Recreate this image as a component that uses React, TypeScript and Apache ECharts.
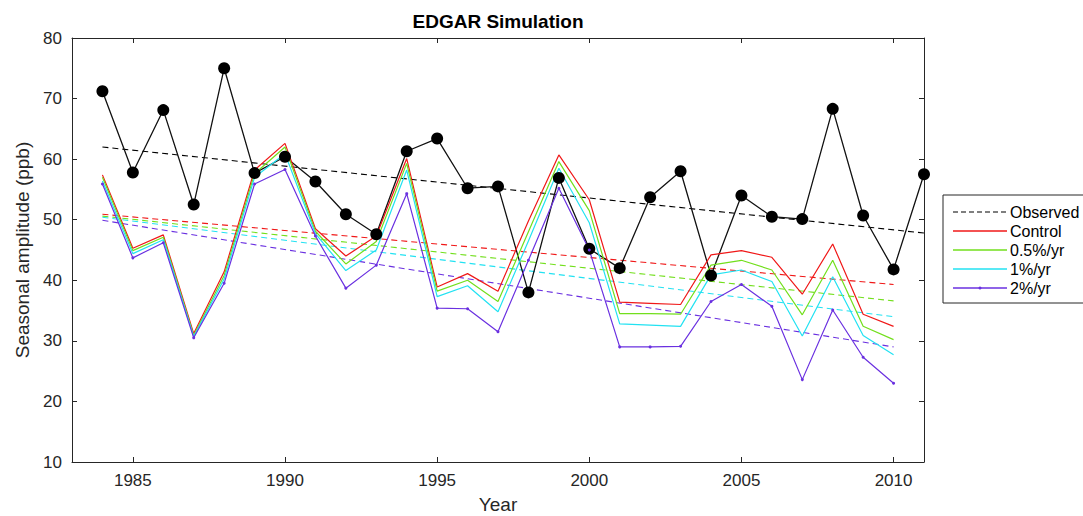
import React, { useEffect, useRef } from "react";
import * as echarts from "echarts";

const obsYears = [1984, 1985, 1986, 1987, 1988, 1989, 1990, 1991, 1992, 1993, 1994, 1995, 1996, 1997, 1998, 1999, 2000, 2001, 2002, 2003, 2004, 2005, 2006, 2007, 2008, 2009, 2010, 2011];
const observed = [71.2, 57.8, 68.1, 52.5, 75.0, 57.7, 60.4, 56.3, 50.9, 47.6, 61.3, 63.4, 55.2, 55.5, 38.0, 56.9, 45.2, 42.0, 53.7, 58.0, 40.8, 54.0, 50.5, 50.1, 68.3, 50.7, 41.8, 57.5];

const modelYears = [1984, 1985, 1986, 1987, 1988, 1989, 1990, 1991, 1992, 1993, 1994, 1995, 1996, 1997, 1998, 1999, 2000, 2001, 2002, 2003, 2004, 2005, 2006, 2007, 2008, 2009, 2010];
const control = [57.4, 45.3, 47.5, 31.2, 41.4, 58.2, 62.6, 48.5, 44.0, 47.3, 60.1, 38.9, 41.1, 38.2, 49.8, 60.7, 53.3, 36.4, 36.2, 36.0, 44.2, 44.9, 43.8, 37.7, 46.0, 34.4, 32.4];
const p05 = [57.0, 44.9, 47.1, 30.9, 40.8, 57.6, 62.0, 48.1, 42.7, 46.4, 59.3, 38.2, 40.0, 36.5, 48.0, 59.6, 51.5, 34.5, 34.5, 34.4, 42.5, 43.3, 41.7, 34.3, 43.3, 32.4, 30.2];
const p1 = [56.4, 44.4, 46.7, 30.7, 40.2, 57.0, 60.9, 47.7, 41.6, 45.0, 58.2, 37.3, 39.1, 34.8, 46.5, 58.5, 49.5, 32.8, 32.6, 32.4, 40.9, 41.7, 39.8, 30.8, 40.6, 30.9, 27.7];
const p2 = [55.9, 43.7, 46.2, 30.5, 39.5, 55.9, 58.3, 47.3, 38.7, 42.5, 54.3, 35.4, 35.3, 31.5, 43.3, 55.2, 45.0, 29.0, 29.0, 29.1, 36.5, 39.3, 35.7, 23.6, 35.1, 27.3, 23.0];

const obsTrendYears = [1984, 2011];
const observedTrend = [62.0, 47.8];
const modelTrendYears = [1984, 2010];
const controlTrend = [50.9, 39.3];
const p05Trend = [50.6, 36.6];
const p1Trend = [50.4, 34.0];
const p2Trend = [49.9, 29.0];

const xTicks = [1985, 1990, 1995, 2000, 2005, 2010];
const legendNames = ["Observed", "Control", "0.5%/yr", "1%/yr", "2%/yr"];

const FONT = "'Liberation Sans', Arial, Helvetica, sans-serif";
const AX = "#262626";
const C_RED = "#f01818";
const C_GREEN = "#72df1c";
const C_CYAN = "#22e2f2";
const C_PURPLE = "#6a30e0";
const C_BLACK = "#000000";

const zip = (xs: number[], ys: number[]) => xs.map((x, i) => [x, ys[i]]);

export default function App() {
  const ref = useRef<HTMLDivElement>(null);
  useEffect(() => {
    document.body.style.margin = "0";
    const chart = echarts.init(ref.current!, null, { renderer: "svg" });
    const dashed = (name: string, xs: number[], ys: number[], color: string) => ({
      name,
      type: "line",
      data: zip(xs, ys),
      symbol: "none",
      lineStyle: { color, width: 1.1, type: [6, 4] },
      z: 2,
    });
    const solid = (name: string, ys: number[], color: string, sym = false) => ({
      name,
      type: "line",
      data: zip(modelYears, ys),
      symbol: sym ? "circle" : "none",
      symbolSize: 3,
      showSymbol: sym,
      itemStyle: { color },
      lineStyle: { color, width: 1.2 },
      z: 3,
    });
    const legendColors = [C_BLACK, C_RED, C_GREEN, C_CYAN, C_PURPLE];
    const legendGraphics: any[] = [
      {
        type: "rect",
        shape: { x: 943, y: 195, width: 220, height: 108 },
        style: { fill: "#ffffff", stroke: AX, lineWidth: 1 },
      },
    ];
    legendNames.forEach((n, i) => {
      const y = 212 + i * 19;
      legendGraphics.push({
        type: "line",
        shape: { x1: 953, y1: y, x2: 1007, y2: y },
        style: { stroke: legendColors[i], lineWidth: i === 0 ? 1.1 : 1.4, lineDash: i === 0 ? [5, 3] : null },
      });
      if (i === 4) {
        legendGraphics.push({ type: "circle", shape: { cx: 980, cy: y, r: 1.5 }, style: { fill: C_PURPLE } });
      }
      legendGraphics.push({
        type: "text",
        x: 1010,
        y,
        style: { text: n, fontSize: 16, fontFamily: FONT, fill: "#000", verticalAlign: "middle", align: "left" },
      });
    });
    const option: any = {
      animation: false,
      backgroundColor: "#ffffff",
      grid: { left: 72, right: 159, top: 38, bottom: 54, containLabel: false, outerBoundsMode: "none" },
      xAxis: [
        {
          type: "value",
          min: 1983,
          max: 2011,
          name: "Year",
          nameLocation: "middle",
          nameGap: 33,
          nameTextStyle: { fontSize: 19, fontFamily: FONT, color: AX },
          axisLine: { show: true, onZero: false, lineStyle: { color: AX, width: 1 } },
          axisTick: { show: true, inside: true, length: 5, customValues: xTicks, lineStyle: { color: AX } },
          axisLabel: {
            show: true,
            customValues: xTicks,
            formatter: (v: number) => String(v),
            fontSize: 17,
            fontFamily: FONT,
            color: AX,
            margin: 10,
          },
          splitLine: { show: false },
        },
        {
          type: "value",
          position: "top",
          min: 1983,
          max: 2011,
          axisLine: { show: true, onZero: false, lineStyle: { color: AX, width: 1 } },
          axisTick: { show: true, inside: true, length: 5, customValues: xTicks, lineStyle: { color: AX } },
          axisLabel: { show: false },
          splitLine: { show: false },
        },
      ],
      yAxis: [
        {
          type: "value",
          min: 10,
          max: 80,
          interval: 10,
          name: "Seasonal amplitude (ppb)",
          nameLocation: "middle",
          nameGap: 37,
          nameRotate: 90,
          nameTextStyle: { fontSize: 19, fontFamily: FONT, color: AX },
          axisLine: { show: true, onZero: false, lineStyle: { color: AX, width: 1 } },
          axisTick: { show: true, inside: true, length: 5, lineStyle: { color: AX } },
          axisLabel: { show: true, fontSize: 17, fontFamily: FONT, color: AX, margin: 10 },
          splitLine: { show: false },
        },
        {
          type: "value",
          position: "right",
          min: 10,
          max: 80,
          interval: 10,
          axisLine: { show: true, onZero: false, lineStyle: { color: AX, width: 1 } },
          axisTick: { show: true, inside: true, length: 5, lineStyle: { color: AX } },
          axisLabel: { show: false },
          splitLine: { show: false },
        },
      ],
      series: [
        dashed("Observed", obsTrendYears, observedTrend, C_BLACK),
        dashed("Control trend", modelTrendYears, controlTrend, C_RED),
        dashed("0.5%/yr trend", modelTrendYears, p05Trend, C_GREEN),
        dashed("1%/yr trend", modelTrendYears, p1Trend, C_CYAN),
        dashed("2%/yr trend", modelTrendYears, p2Trend, C_PURPLE),
        {
          name: "Observed data",
          type: "line",
          data: zip(obsYears, observed),
          symbol: "circle",
          symbolSize: 12,
          itemStyle: { color: C_BLACK },
          lineStyle: { color: "#111111", width: 1.3 },
          z: 3,
        },
        solid("Control", control, C_RED),
        solid("0.5%/yr", p05, C_GREEN),
        solid("1%/yr", p1, C_CYAN),
        solid("2%/yr", p2, C_PURPLE, true),
      ],
      graphic: [
        {
          type: "text",
          x: 498,
          y: 21,
          style: {
            text: "EDGAR Simulation",
            fontSize: 19,
            fontWeight: "bold",
            fontFamily: FONT,
            fill: "#000",
            align: "center",
            verticalAlign: "middle",
          },
        },
        ...legendGraphics,
      ],
    };
    chart.setOption(option);
    return () => chart.dispose();
  }, []);
  return <div ref={ref} style={{ width: 1083, height: 516 }} />;
}
